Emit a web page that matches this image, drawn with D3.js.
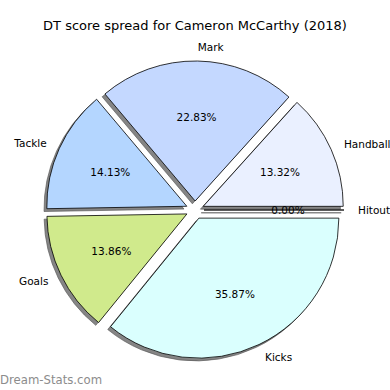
<!DOCTYPE html>
<html>
<head>
<meta charset="utf-8">
<script src="https://cdn.jsdelivr.net/npm/d3@7"></script>
<style>
  body { margin: 0; background: #fff; }
  svg { display: block; font-family: "DejaVu Sans", sans-serif; }
</style>
</head>
<body>
<div id="chart"></div>
<script>
// data, in matplotlib order (counterclockwise from 3 o'clock)
const categories = ["Handball", "Mark", "Tackle", "Goals", "Kicks", "Hitout"]
const values = [13.32, 22.83, 14.13, 13.86, 35.87, 0.0]
const colors = ["#eaf0ff", "#c4d8ff", "#b4d6ff", "#d0ea8c", "#dafffe", "#f0f0f0"]
const title = "DT score spread for Cameron McCarthy (2018)"
const watermark = "Dream-Stats.com"

const W = 390, H = 390
const CX = 195, CY = 210, R = 140
const EXPLODE = 9
const SHADOW = 2.8

const svg = d3.select("#chart").append("svg")
  .attr("width", W).attr("height", H)

svg.append("text")
  .attr("x", W / 2).attr("y", 26)
  .attr("text-anchor", "middle")
  .attr("dominant-baseline", "middle")
  .style("font-size", "13px")
  .text(title)

const data = categories.map((c, i) => ({ name: c, value: values[i], color: colors[i] }))

// counterclockwise, starting at 3 o'clock like matplotlib
const pie = d3.pie().value(d => d.value).sort(null)
  .startAngle(Math.PI / 2).endAngle(Math.PI / 2 - 2 * Math.PI)
const arcs = pie(data)
const arc = d3.arc().innerRadius(0).outerRadius(R)

// d3 angle -> screen direction (0 at top, clockwise)
const dir = a => [Math.sin(a), -Math.cos(a)]
const mid = d => (d.startAngle + d.endAngle) / 2
const offset = d => { const [x, y] = dir(mid(d)); return [x * EXPLODE, y * EXPLODE] }

const g = svg.append("g").attr("transform", `translate(${CX},${CY})`)

// SHADOWS ---------------------
g.selectAll("path.shadow").data(arcs).enter()
  .append("path")
  .attr("class", "shadow")
  .attr("transform", d => { const [ox, oy] = offset(d); return `translate(${ox - SHADOW},${oy + SHADOW})` })
  .attr("d", arc)
  .attr("fill", "#858585")
  .attr("stroke", "#555")
  .attr("stroke-width", 0.8)
  .attr("stroke-opacity", 0.8)

// WEDGES ----------------------
g.selectAll("path.wedge").data(arcs).enter()
  .append("path")
  .attr("class", "wedge")
  .attr("transform", d => { const [ox, oy] = offset(d); return `translate(${ox},${oy})` })
  .attr("d", arc)
  .attr("fill", d => d.data.color)
  .attr("stroke", "#000")
  .attr("stroke-width", 0.8)
  .attr("stroke-linejoin", "round")

// LABELS ----------------------
g.selectAll("text.pct").data(arcs).enter()
  .append("text")
  .attr("class", "pct")
  .attr("x", d => offset(d)[0] + dir(mid(d))[0] * R * 0.6)
  .attr("y", d => offset(d)[1] + dir(mid(d))[1] * R * 0.6)
  .attr("text-anchor", "middle")
  .attr("dominant-baseline", "central")
  .style("font-size", "10.5px")
  .text(d => d.data.value.toFixed(2) + "%")

g.selectAll("text.lab").data(arcs).enter()
  .append("text")
  .attr("class", "lab")
  .attr("x", d => offset(d)[0] + dir(mid(d))[0] * R * 1.1)
  .attr("y", d => offset(d)[1] + dir(mid(d))[1] * R * 1.1)
  .attr("text-anchor", d => dir(mid(d))[0] > 0 ? "start" : "end")
  .attr("dominant-baseline", "central")
  .style("font-size", "10.5px")
  .text(d => d.data.name)

svg.append("text")
  .attr("x", 0).attr("y", 380)
  .attr("dominant-baseline", "central")
  .style("font-size", "11.7px")
  .attr("fill", "#8c8c8c")
  .text(watermark)
</script>
</body>
</html>
